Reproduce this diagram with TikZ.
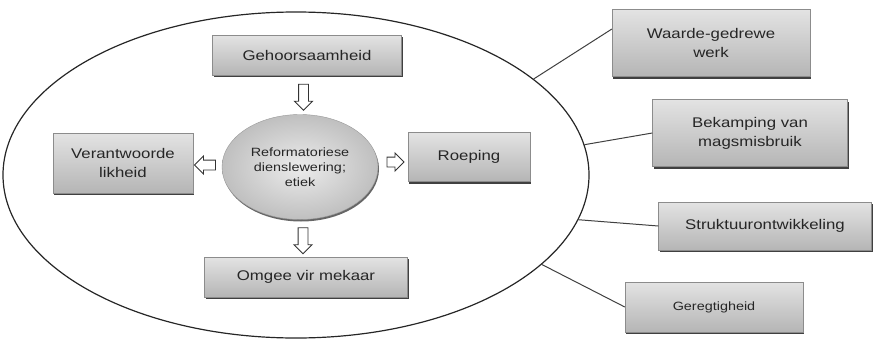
\documentclass[tikz,border=0pt]{standalone}
\usepackage{fontspec}
\setmainfont{Liberation Sans}[FakeStretch=1.2]
\usetikzlibrary{shapes.geometric,shapes.arrows,shadows,calc}

\begin{document}
\begin{tikzpicture}[x=1pt,y=-1pt]
                          \tikzstyle{every node}+=[inner sep=0pt, text=black!85]
                          \tikzstyle{waardebox}=[draw=black!45, align=center, top color=gray!22, bottom color=gray!58,
                            drop shadow={shadow xshift=1pt, shadow yshift=-2pt, fill=black!75, opacity=1},
                            font=\fontsize{14}{19}\selectfont]
                          \tikzstyle{holpyl}=[single arrow, draw=black!80, fill=white, line width=0.9pt, inner sep=4.5pt,
                            minimum height=26pt, single arrow head extend=4pt, single arrow head indent=0pt]
                          \useasboundingbox (0,0) rectangle (874,340);
                          % groot ellips
                          \node [draw=black!85, line width=1.2pt, ellipse, minimum width=586pt, minimum height=326pt] (raam) at (296,175) {};
                          % kern
                          \node [draw=black!40, ellipse, inner color=gray!15, outer color=gray!50, minimum width=156pt, minimum height=105pt,
                            align=center, font=\fontsize{12}{15}\selectfont,
                            drop shadow={shadow xshift=1pt, shadow yshift=-2pt, fill=black!60, opacity=1}] (kern) at (300,167) {Reformatoriese\\dienslewering;\\etiek};
                          % binne
                          \node [waardebox, minimum width=189pt, minimum height=40pt] (geh) at (307,55) {Gehoorsaamheid};
                          \node [waardebox, minimum width=140pt, minimum height=60pt] (ver) at (123,163) {Verantwoorde\\likheid};
                          \node [waardebox, minimum width=122pt, minimum height=49pt] (roe) at (469,157) {Roeping};
                          \node [waardebox, minimum width=203pt, minimum height=40pt] (omg) at (306,277) {Omgee vir mekaar};
                          % buite
                          \node [waardebox, minimum width=198pt, minimum height=67pt] (wgw) at (711,43) {Waarde-gedrewe\\werk};
                          \node [waardebox, minimum width=195pt, minimum height=67pt] (bek) at (750,133) {Bekamping van\\magsmisbruik};
                          \node [waardebox, minimum width=213pt, minimum height=48pt] (str) at (765,226) {Struktuurontwikkeling};
                          \node [waardebox, minimum width=178pt, minimum height=50pt, font=\fontsize{12}{15}\selectfont] (ger) at (714,307) {Geregtigheid};
                          % pyle
                          \node [holpyl, rotate=-90] (p1) at ($(geh.south)!0.5!(kern.north)$) {};
                          \node [holpyl, rotate=180, minimum height=21pt] (p2) at ($(kern.west)!0.5!(ver.east)$) {};
                          \node [holpyl, minimum height=17pt] (p3) at ($(kern.east)!0.5!(roe.west)$) {};
                          \node [holpyl, rotate=-90] (p4) at ($(kern.south)!0.5!(omg.north)$) {};
                          % lyne
                          \draw [black!75, line width=1pt] (raam.22) -- (wgw.172);
                          \draw [black!75, line width=1pt] (raam.6) -- (bek.west);
                          \draw [black!75, line width=1pt] (raam.-9) -- (str.west);
                          \draw [black!75, line width=1pt] (raam.-20) -- (ger.west);
                      \end{tikzpicture}
\end{document}
